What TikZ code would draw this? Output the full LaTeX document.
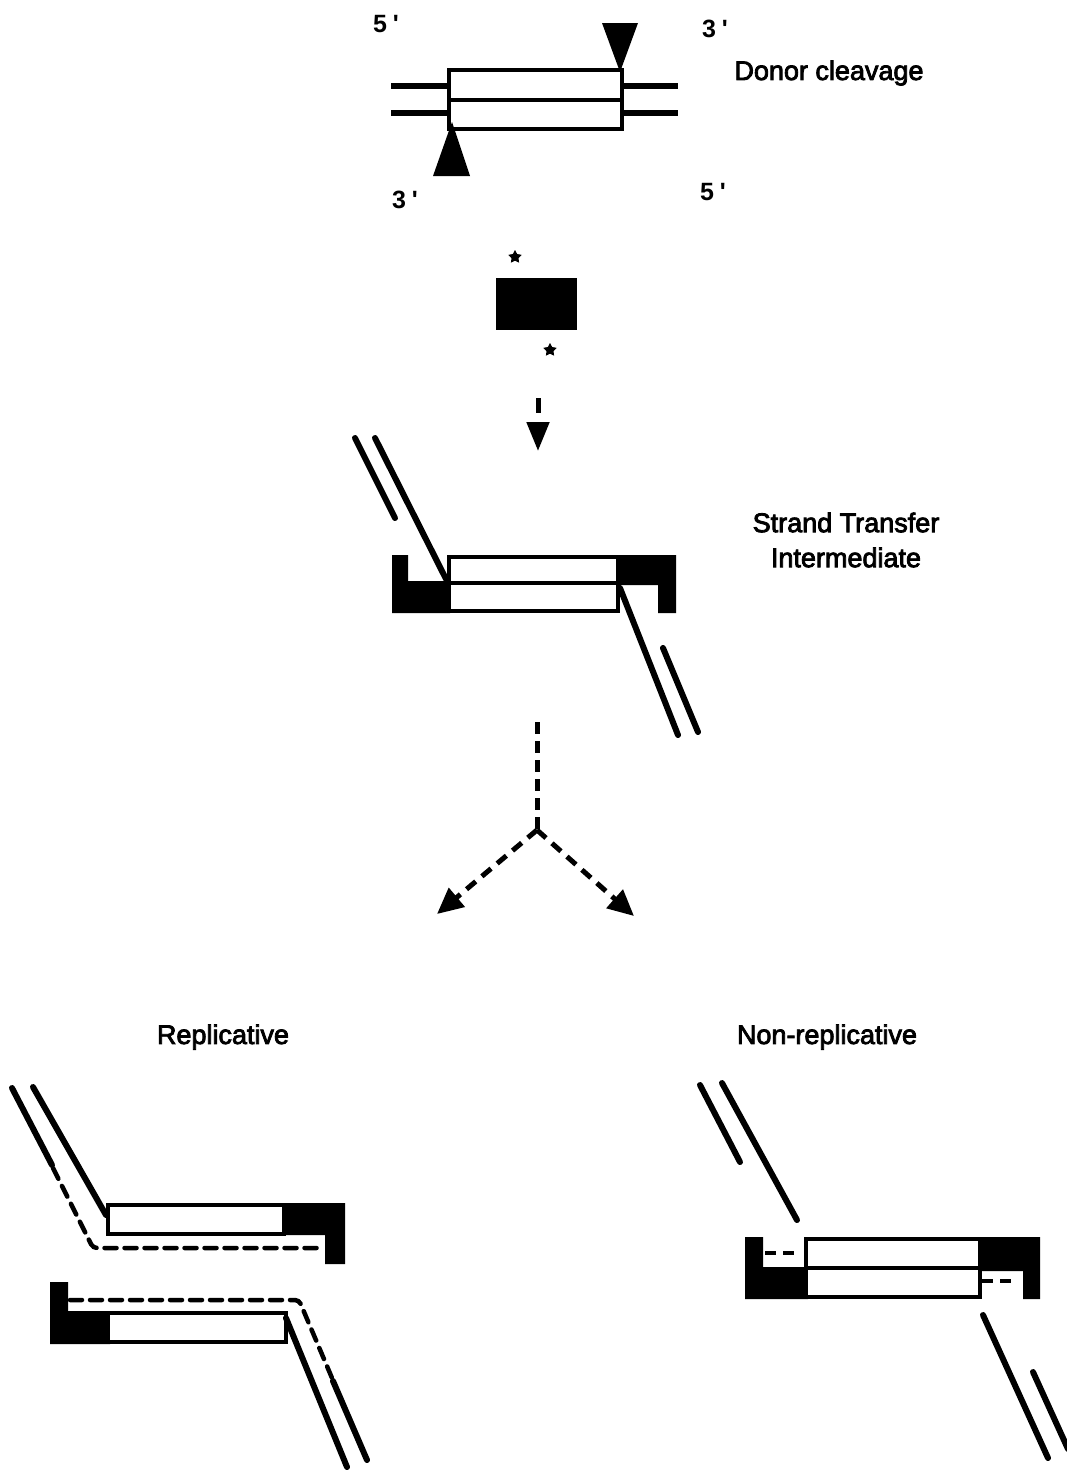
\documentclass[tikz,border=0pt]{standalone}
\usepackage{fontspec}
\setmainfont{Liberation Sans}
\newfontfamily\labfont{Liberation Sans}[FakeBold=3]
\newfontfamily\endfont{Liberation Sans Bold}
\usetikzlibrary{arrows.meta,shapes.geometric}

\begin{document}
\begin{tikzpicture}[x=1pt,y=-1pt,
  txt/.style={font=\labfont\fontsize{27}{34}\selectfont, inner sep=0pt},
  endtxt/.style={font=\endfont\fontsize{25}{30}\selectfont, inner sep=0pt},
  duplex/.style={draw=black, fill=white, line width=4pt},
  blackcap/.style={fill=black},
  strand/.style={line width=6pt},
  rstrand/.style={line width=6pt, line cap=round},
  newdna/.style={line width=4.5pt, dash pattern=on 12pt off 8pt, line cap=round, rounded corners=4pt},
  flow/.style={line width=5pt, dash pattern=on 12pt off 8pt, -{Triangle[width=24pt,length=26pt]}},
  cut/.style={fill=black},
  endstar/.style={star, star points=5, star point ratio=1.9, fill=black, inner sep=0pt, minimum size=14pt}
]
\useasboundingbox (0,0) rectangle (1067,1473);

% ---------- donor: transposon with flanking DNA ----------
\draw[strand] (391,86) -- (449,86);
\draw[strand] (391,113) -- (449,113);
\draw[strand] (622,86) -- (678,86);
\draw[strand] (622,113) -- (678,113);
\draw[duplex] (449,70) rectangle (622,129);
\draw[line width=4pt] (449,100) -- (622,100);
\fill[cut] (602,23) -- (638,23) -- (620,72) -- cycle;
\fill[cut] (433,176) -- (470,176) -- (452,122) -- cycle;
\node[endtxt] (d5a) at (386,24) {5\hspace{6pt}\textquotesingle};
\node[endtxt] (d3a) at (715,29) {3\hspace{6pt}\textquotesingle};
\node[endtxt] (d3b) at (405,200) {3\hspace{6pt}\textquotesingle};
\node[endtxt] (d5b) at (713,192) {5\hspace{6pt}\textquotesingle};
\node[txt] (donorlbl) at (829,73) {Donor cleavage};

% ---------- target ----------
\fill (496,278) rectangle (577,330);
\node[endstar] (s1) at (515,257) {};
\node[endstar] (s2) at (550,350) {};
\coordinate (a1) at (538,398);
\coordinate (a2) at (538,451);
\draw[line width=5pt, dash pattern=on 15pt off 30pt, -{Triangle[width=22pt,length=29pt]}] (a1) -- (a2);

% ---------- strand transfer intermediate ----------
\fill[blackcap] (392,555) -- (408,555) -- (408,581) -- (450,581) -- (450,613) -- (392,613) -- cycle;
\fill[blackcap] (617,555) -- (676,555) -- (676,613) -- (658,613) -- (658,585) -- (617,585) -- cycle;
\draw[duplex] (449,557) rectangle (618,583);
\draw[duplex] (449,583) rectangle (618,611);
\draw[rstrand] (355,438) -- (395,518);
\draw[rstrand] (375,438) -- (446,579);
\draw[rstrand] (620,588) -- (678,735);
\draw[rstrand] (663,648) -- (698,732);
\node[txt, align=center] (stilbl) at (846,540) {Strand Transfer\\[1pt]Intermediate};

% ---------- branching resolution ----------
\coordinate (b0) at (537,722);
\coordinate (bj) at (537,830);
\coordinate (bl) at (437,914);
\coordinate (br) at (634,916);
\draw[line width=5pt, dash pattern=on 12pt off 7pt] (b0) -- (bj);
\draw[flow] (bj) -- (bl);
\draw[flow] (bj) -- (br);

\node[txt] (replbl) at (223,1037) {Replicative};
\node[txt] (nonlbl) at (827,1037) {Non-replicative};

% ---------- replicative products ----------
% upper
\fill[blackcap] (283,1203) -- (345,1203) -- (345,1264) -- (325,1264) -- (325,1235) -- (283,1235) -- cycle;
\draw[duplex] (108,1205) rectangle (284,1234);
\draw[rstrand] (12,1088) -- (52,1165);
\draw[rstrand] (33,1087) -- (106,1215);
\draw[newdna] (53,1168) -- (93,1248) -- (323,1248);
% lower
\fill[blackcap] (50,1282) -- (68,1282) -- (68,1311) -- (110,1311) -- (110,1344) -- (50,1344) -- cycle;
\draw[duplex] (108,1313) rectangle (286,1342);
\draw[newdna] (70,1300) -- (299,1300) -- (332,1378);
\draw[rstrand] (333,1381) -- (367,1460);
\draw[rstrand] (286,1318) -- (347,1467);

% ---------- non-replicative product ----------
\fill[blackcap] (745,1237) -- (763,1237) -- (763,1267) -- (808,1267) -- (808,1299) -- (745,1299) -- cycle;
\fill[blackcap] (978,1237) -- (1040,1237) -- (1040,1299) -- (1023,1299) -- (1023,1271) -- (978,1271) -- cycle;
\draw[duplex] (806,1239) rectangle (980,1268);
\draw[duplex] (806,1268) rectangle (980,1297);
\draw[line width=4pt, dash pattern=on 11pt off 7pt] (765,1253) -- (796,1253);
\draw[line width=4pt, dash pattern=on 11pt off 7pt] (982,1281) -- (1013,1281);
\draw[rstrand] (700,1085) -- (740,1162);
\draw[rstrand] (722,1083) -- (797,1220);
\draw[rstrand] (983,1315) -- (1048,1458);
\draw[rstrand] (1033,1372) -- (1068,1449);
\end{tikzpicture}
\end{document}
